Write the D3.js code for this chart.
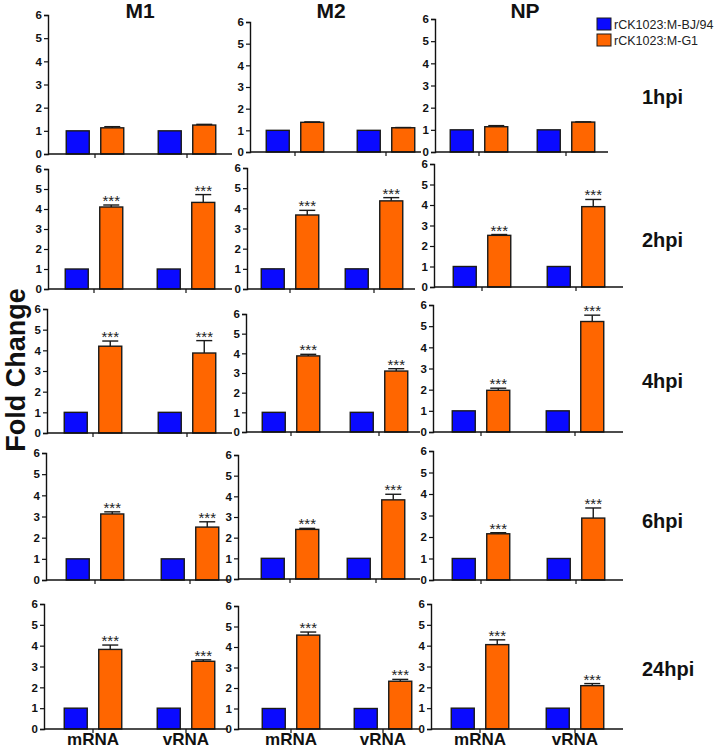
<!DOCTYPE html>
<html><head><meta charset="utf-8">
<script src="https://cdn.jsdelivr.net/npm/d3@7"></script>
<style>
html,body{margin:0;padding:0;background:#fff;}
svg{display:block;font-family:"Liberation Sans",Arial,Helvetica,sans-serif;}
</style></head>
<body><svg id="chart" width="720" height="748"></svg>
<script>
// ---- data ----
const genes = ["M1", "M2", "NP"];
const timepoints = ["1hpi", "2hpi", "4hpi", "6hpi", "24hpi"];
const categories = ["mRNA", "vRNA"];
const seriesNames = ["rCK1023:M-BJ/94", "rCK1023:M-G1"];
const yTicks = [0, 1, 2, 3, 4, 5, 6];
const significance = ["", "***", "***", "***", "***"];

// control (rCK1023:M-BJ/94) fold change, per timepoint [mRNA, vRNA]
const bjM1 = [[1,1],[1,1],[1,1],[1,1],[1,1]];
const bjM2 = [[1,1],[1,1],[1,1],[1,1],[1,1]];
const bjNP = [[1,1],[1,1],[1,1],[1,1],[1,1]];

// rCK1023:M-G1 fold change, per timepoint [mRNA, vRNA]
const g1M1 = [[1.13,1.25],[4.10,4.33],[4.20,3.87],[3.12,2.50],[3.82,3.25]];
const g1M2 = [[1.37,1.12],[3.67,4.37],[3.87,3.10],[2.40,3.83],[4.58,2.33]];
const g1NP = [[1.14,1.35],[2.52,3.92],[1.97,5.22],[2.15,2.88],[4.05,2.08]];

// error (upper) for rCK1023:M-G1
const errM1 = [[0.05,0.03],[0.10,0.39],[0.25,0.60],[0.10,0.25],[0.21,0.07]];
const errM2 = [[0.02,0.01],[0.23,0.16],[0.08,0.12],[0.05,0.27],[0.15,0.09]];
const errNP = [[0.05,0.01],[0.04,0.35],[0.10,0.30],[0.05,0.47],[0.23,0.10]];

const bjData = [bjM1, bjM2, bjNP];
const g1Data = [g1M1, g1M2, g1NP];
const errData = [errM1, errM2, errNP];

// ---- layout (per panel: axisX, xEnd, mRNA centre, vRNA centre, y of 6, y of 0) ----
const layout = [
  [[48,232,95,187,15,154],  [250,421,295,386,22,152], [435,608,479,566,19,152]],
  [[48,232,94,186,169,289], [247,415,290,374,168,289], [434,623,482,576,164,287]],
  [[47,232,93,187,309,433], [246,420,291,379,314,432], [433,623,481,575,305,432]],
  [[46,230,95,190,453,580], [238,420,290,376,455,579], [433,623,481,576,451,580]],
  [[44,228,93,186,604,729], [238,420,291,383,606,729], [431,623,480,575,604,729]]
];
const titleX = [140, 331, 525];
const rowLabelY = [104, 247, 388, 528, 676];
const colors = ["#0a0aff", "#ff6600"];
const strokeC = "#1a1a1a";

const svg = d3.select("#chart");

// column titles
svg.selectAll("text.title").data(genes).join("text")
  .attr("x", (d,i) => titleX[i]).attr("y", 18)
  .attr("text-anchor","middle").attr("font-size", 21).attr("font-weight","bold")
  .attr("fill","#111").text(d => d);

// row labels
svg.selectAll("text.rowlab").data(timepoints).join("text")
  .attr("x", 642).attr("y", (d,i) => rowLabelY[i])
  .attr("font-size", 20).attr("font-weight","bold").attr("fill","#111")
  .text(d => d);

// y title
svg.append("text")
  .attr("transform","translate(25,370) rotate(-90)")
  .attr("text-anchor","middle").attr("font-size", 27).attr("font-weight","bold")
  .attr("fill","#111").text("Fold Change");

// legend
const leg = svg.append("g");
seriesNames.forEach((s,i) => {
  leg.append("rect").attr("x",597).attr("y",18 + i*16).attr("width",14).attr("height",12)
    .attr("fill",colors[i]).attr("stroke",strokeC).attr("stroke-width",1);
  leg.append("text").attr("x",614).attr("y",28.5 + i*16)
    .attr("font-size",12.5).attr("fill","#222").text(s);
});

const inner = d3.scaleBand().domain(seriesNames).range([-28.75, 28.75]).paddingInner(1/3);

timepoints.forEach((tp, r) => {
  genes.forEach((gname, c) => {
    const [ax, xe, cm, cv, yT, y0] = layout[r][c];
    const y = d3.scaleLinear().domain([0,6]).range([y0, yT]);
    const x = d3.scalePoint().domain(categories).range([cm, cv]);
    const g = svg.append("g");

    const rows = categories.map((cat, k) => ({
      cat, vals: [bjData[c][r][k], g1Data[c][r][k]], err: errData[c][r][k]
    }));
    rows.forEach(d => {
      d.vals.forEach((v, s) => {
        g.append("rect")
          .attr("x", x(d.cat) + inner(seriesNames[s]))
          .attr("y", y(v)).attr("width", inner.bandwidth())
          .attr("height", y(0) - y(v))
          .attr("fill", colors[s]).attr("stroke", strokeC).attr("stroke-width", 1.4);
      });
      const cx = x(d.cat) + inner(seriesNames[1]) + inner.bandwidth()/2;
      const top = d.vals[1] + d.err;
      g.append("line").attr("x1",cx).attr("x2",cx)
        .attr("y1", y(d.vals[1])).attr("y2", y(top))
        .attr("stroke", strokeC).attr("stroke-width",1.4);
      g.append("line").attr("x1",cx - 8).attr("x2",cx + 8)
        .attr("y1", y(top)).attr("y2", y(top))
        .attr("stroke", strokeC).attr("stroke-width",1.4);
      if (significance[r]) {
        g.append("text").attr("x", cx).attr("y", y(top) + 1)
          .attr("text-anchor","middle").attr("font-size", 15).attr("fill","#222")
          .text(significance[r]);
      }
    });

    // y axis
    const yAxis = d3.axisLeft(y).tickValues(yTicks).tickFormat(d3.format("d")).tickSize(4).tickPadding(2);
    const ya = g.append("g").attr("transform", `translate(${ax},0)`).call(yAxis);
    ya.select(".domain").attr("stroke","#111").attr("stroke-width",1.4);
    ya.selectAll(".tick line").attr("stroke","#111").attr("stroke-width",1.2);
    ya.selectAll(".tick text").attr("font-size",11.5).attr("font-weight","bold").attr("fill","#111")
      .attr("font-family",'"Liberation Sans Narrow","Arial Narrow","Liberation Sans",Arial,sans-serif');

    // x axis
    const xa = g.append("g").attr("transform", `translate(0,${y0})`);
    xa.append("line").attr("x1", ax).attr("x2", xe).attr("y1",0).attr("y2",0)
      .attr("stroke","#111").attr("stroke-width",1.4);
    xa.selectAll("line.xt").data(categories).join("line")
      .attr("x1", d => x(d)).attr("x2", d => x(d)).attr("y1",0).attr("y2",4)
      .attr("stroke","#111").attr("stroke-width",1.2);
    if (r === timepoints.length - 1) {
      xa.selectAll("text.xl").data(categories).join("text")
        .attr("x", d => x(d)).attr("y", 16)
        .attr("text-anchor","middle").attr("font-size",17).attr("font-weight","bold")
        .attr("fill","#111").text(d => d);
    }
  });
});
</script>
</body></html>
